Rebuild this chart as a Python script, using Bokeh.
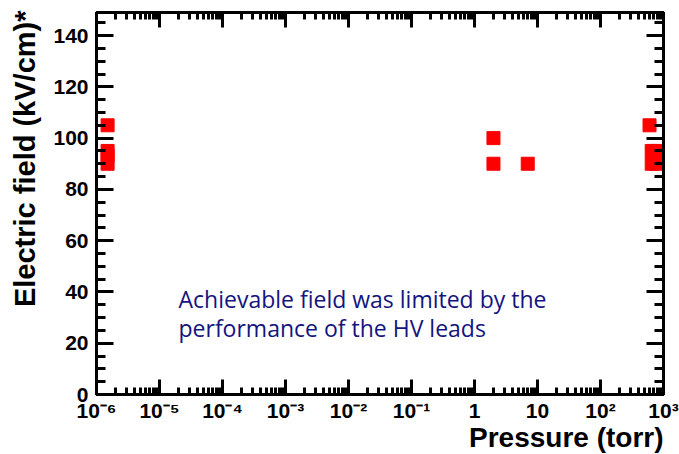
import math
from bokeh.plotting import figure
from bokeh.models import (FixedTicker, LogAxis, LinearAxis, Label, Title,
                          SingleIntervalTicker, CustomJSTickFormatter, Range1d)
from bokeh.embed import file_html
from bokeh.resources import INLINE

# ---- data ----
pressure_torr = [1.5e-6, 1.5e-6, 1.5e-6, 1.5e-6, 2, 2, 7, 600, 650, 650, 760, 760, 700]
field_kv_cm = [105, 95, 93, 90, 100, 90, 90, 105, 95, 90, 95, 90, 93]

x_tick_values = [1e-6, 1e-5, 1e-4, 1e-3, 1e-2, 1e-1, 1, 10, 1e2, 1e3]
x_tick_labels = ["10⁻⁶", "10⁻⁵", "10⁻⁴", "10⁻³", "10⁻²", "10⁻¹", "1", "10", "10²", "10³"]
x_minor = [k * v for v in x_tick_values[:-1] for k in range(2, 10)]

x_title = "Pressure (torr)"
y_title = "Electric field (kV/cm)*"
note_lines = ["Achievable field was limited by the", "performance of the HV leads"]

FONT = "Liberation Sans"

p = figure(x_axis_type="log", output_backend="svg", toolbar_location=None,
           x_range=Range1d(1e-6, 1e3), y_range=Range1d(0, 149),
           frame_width=567, frame_height=382,
           min_border_left=96, min_border_right=16, min_border_top=12, min_border_bottom=60)
p.background_fill_color = "white"
p.border_fill_color = "white"
p.outline_line_color = "black"
p.outline_line_width = 3
p.xgrid.visible = False
p.ygrid.visible = False

xt = FixedTicker(ticks=x_tick_values, minor_ticks=x_minor)
fmt = CustomJSTickFormatter(args=dict(vals=x_tick_values, labs=x_tick_labels), code="""
const i = vals.findIndex(v => Math.abs(Math.log10(v) - Math.log10(tick)) < 1e-6);
return i >= 0 ? labs[i] : '';
""")
blank = CustomJSTickFormatter(code="return '';")
yt = SingleIntervalTicker(interval=20, num_minor_ticks=4)

def style(ax, show_labels):
    ax.axis_line_width = 3
    ax.axis_line_color = "black"
    ax.major_tick_line_width = 3
    ax.minor_tick_line_width = 3
    ax.major_tick_out = 0
    ax.minor_tick_out = 0
    ax.major_label_text_font = FONT
    ax.major_label_text_font_style = "bold"
    ax.major_label_text_color = "black"
    if not show_labels:
        ax.formatter = blank
        ax.major_label_text_font_size = "0px"
        ax.major_label_standoff = 0
        ax.axis_label_standoff = 0

xa = p.xaxis[0]
xa.ticker = xt
xa.formatter = fmt
style(xa, True)
xa.major_tick_in = 15
xa.minor_tick_in = 7
xa.major_label_text_font_size = "21px"
xa.major_label_standoff = 4

ya = p.yaxis[0]
ya.ticker = yt
style(ya, True)
ya.major_tick_in = 17
ya.minor_tick_in = 9
ya.major_label_text_font_size = "21px"
ya.major_label_standoff = 8

top = LogAxis(ticker=xt)
style(top, False)
top.major_tick_in = 15
top.minor_tick_in = 7
p.add_layout(top, "above")

right = LinearAxis(ticker=yt)
style(right, False)
right.major_tick_in = 17
right.minor_tick_in = 9
p.add_layout(right, "right")

p.scatter(pressure_torr, field_kv_cm, marker="square", size=13,
          fill_color="#ff0000", line_color="#ff0000")

p.add_layout(Title(text=y_title, align="right", standoff=15, offset=-2,
                   vertical_align="top",
                   text_font=FONT, text_font_style="bold", text_font_size="29px",
                   text_color="black"), "left")
p.add_layout(Title(text=x_title, align="right", standoff=-9,
                   text_font=FONT, text_font_style="bold", text_font_size="28px",
                   text_color="black"), "below")
for i, line in enumerate(note_lines):
    p.add_layout(Label(x=1e-6, y=0, x_offset=82, y_offset=96 - 29 * i, text=line,
                       text_align="left", text_baseline="alphabetic",
                       text_font="Open Sans", text_font_size="23px", text_color="#14147e"))

open("out.html", "w").write(file_html(p, INLINE))
